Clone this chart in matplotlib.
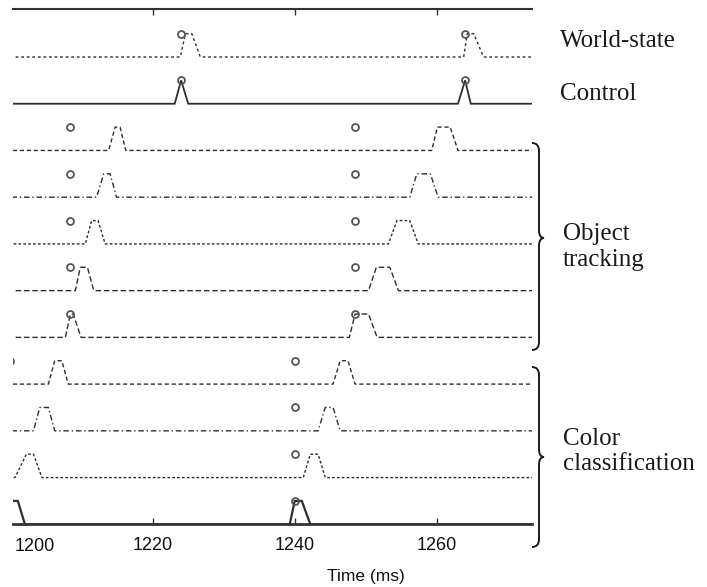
import matplotlib
matplotlib.use("Agg")
import matplotlib.pyplot as plt
from matplotlib.path import Path
from matplotlib.patches import PathPatch

# ---------------- data (times in ms) ----------------
# rows from top to bottom
row_names = ["World-state", "Control",
             "Object tracking 1", "Object tracking 2", "Object tracking 3",
             "Object tracking 4", "Object tracking 5",
             "Color classification 1", "Color classification 2",
             "Color classification 3", "Color classification 4"]

# each pulse: (rise start, top start, top end, fall end)
ws_pulses = [(1223.9, 1224.6, 1225.5, 1226.7), (1263.8, 1264.3, 1265.2, 1266.6)]
ctrl_pulses = [(1223.1, 1224.0, 1224.0, 1225.0), (1263.0, 1264.0, 1264.0, 1264.8)]
ot1_pulses = [(1213.8, 1214.7, 1215.4, 1216.2), (1259.3, 1260.1, 1261.9, 1263.0)]
ot2_pulses = [(1212.1, 1213.1, 1214.0, 1214.9), (1256.2, 1257.2, 1259.1, 1260.2)]
ot3_pulses = [(1210.5, 1211.4, 1212.3, 1213.3), (1253.2, 1254.4, 1256.2, 1257.4)]
ot4_pulses = [(1209.1, 1209.8, 1210.8, 1211.7), (1250.4, 1251.5, 1253.4, 1254.6)]
ot5_pulses = [(1207.7, 1208.4, 1208.8, 1209.9), (1247.7, 1248.5, 1250.4, 1251.6)]
cc1_pulses = [(1205.3, 1206.2, 1207.2, 1208.1), (1245.4, 1246.4, 1247.5, 1248.5)]
cc2_pulses = [(1203.2, 1204.1, 1205.3, 1206.2), (1243.3, 1244.3, 1245.4, 1246.4)]
cc3_pulses = [(1200.6, 1202.2, 1203.2, 1204.4), (1241.2, 1242.2, 1243.3, 1244.3)]
cc4_pulses = [(1199.0, 1199.8, 1201.0, 1202.0), (1239.3, 1240.0, 1241.0, 1242.2)]

# event markers (circles)
ws_events = [1224.0, 1264.0]
ctrl_events = [1224.0, 1264.0]
ot_events = [1208.3, 1248.5]
cc1_events = [1199.9, 1240.0]
cc2_events = [1199.6, 1240.0]
cc_events = [1240.0]

row_pulses = [ws_pulses, ctrl_pulses, ot1_pulses, ot2_pulses, ot3_pulses,
              ot4_pulses, ot5_pulses, cc1_pulses, cc2_pulses, cc3_pulses, cc4_pulses]
row_events = [ws_events, ctrl_events, ot_events, ot_events, ot_events,
              ot_events, ot_events, cc1_events, cc2_events, cc_events, cc_events]

x_ticks = [1220, 1240, 1260]
first_tick_label = "1200"

# ---------------- styles ----------------
row_styles = [(0, (2, 2)), "-", (0, (3, 2)), (0, (4, 2, 1, 2)), (0, (2, 1.5)),
              (0, (4, 2)), (0, (4, 2)), (0, (3, 2)), (0, (4, 2, 1, 2)),
              (0, (2, 1.5)), "-"]
row_lw = [1.0, 1.3, 1.0, 1.0, 1.0, 1.0, 1.0, 1.0, 1.0, 1.0, 1.6]
pulse_height = 0.5
line_color = "#2e2e2e"

W, H = 707, 587
fig = plt.figure(figsize=(W / 100, H / 100), dpi=100)
ax_l, ax_r, ax_t, ax_b = 13, 531.7, 9, 524.3
ax = fig.add_axes([ax_l / W, 1 - ax_b / H, (ax_r - ax_l) / W, (ax_b - ax_t) / H])

n = len(row_names)
for i, (pulses, events) in enumerate(zip(row_pulses, row_events)):
    base = n - 1 - i
    xs, ys = [1180.0], [0.0]
    for r, a, b, f in pulses:
        xs += [r, a, b, f]
        ys += [0, 1, 1, 0]
    xs.append(1290.0)
    ys.append(0)
    ax.plot(xs, [base + pulse_height * y for y in ys], color=line_color,
            lw=row_lw[i], linestyle=row_styles[i], solid_joinstyle="miter")
    ax.plot(events, [base + pulse_height] * len(events), linestyle="none",
            marker="o", markersize=5, markerfacecolor="none",
            markeredgecolor="#555555", markeredgewidth=1.3)

ax.set_xlim(1200.32, 1273.38)
ax.set_ylim(0, n - 1 + 1.027)
ax.set_yticks([])
ax.set_xticks(x_ticks)
ax.set_xticklabels([str(t) for t in x_ticks])
for s in ("left", "right"):
    ax.spines[s].set_visible(False)
ax.spines["bottom"].set_linewidth(2.0)
ax.spines["top"].set_linewidth(1.5)
ax.spines["bottom"].set_color("#333333")
ax.spines["top"].set_color("#333333")
ax.tick_params(axis="x", direction="in", length=4, width=1, top=True,
               color="#333333", pad=9, labelsize=13, labelcolor="#111111")
for lab in ax.get_xticklabels():
    lab.set_fontfamily("Liberation Sans")
ax.text(0.004, -13.5 / (ax_b - ax_t), first_tick_label,
        transform=ax.transAxes, ha="left", va="top", fontsize=13,
        family="Liberation Sans", color="#111111")

fig.text(366 / W, 1 - 577 / H, "Time (ms)", ha="center", va="center",
         fontsize=12.5, family="Liberation Sans", color="#111111")

serif = dict(family="Liberation Serif", fontsize=18, color="#1a1a1a", va="baseline")
fig.text(560 / W, 1 - 47 / H, "World-state", **serif)
fig.text(560 / W, 1 - 100 / H, "Control", **serif)
fig.text(563 / W, 1 - 240 / H, "Object", **serif)
fig.text(563 / W, 1 - 266 / H, "tracking", **serif)
fig.text(563 / W, 1 - 445 / H, "Color", **serif)
fig.text(563 / W, 1 - 470 / H, "classification", **serif)


def brace(y_top, y_tip, y_bot, x0=532.0, x1=539.0, x2=544.0, r=8.0):
    pts = [(x0, y_top), (x1, y_top), (x1, y_top + r),
           (x1, y_tip - r),
           (x1, y_tip), (x2, y_tip),
           (x1, y_tip), (x1, y_tip + r),
           (x1, y_bot - r),
           (x1, y_bot), (x0, y_bot)]
    codes = [Path.MOVETO, Path.CURVE3, Path.CURVE3, Path.LINETO,
             Path.CURVE3, Path.CURVE3, Path.CURVE3, Path.CURVE3,
             Path.LINETO, Path.CURVE3, Path.CURVE3]
    verts = [(x / W, 1 - y / H) for x, y in pts]
    fig.patches.append(PathPatch(Path(verts, codes), transform=fig.transFigure,
                                 facecolor="none", edgecolor="#1a1a1a", lw=1.4))


brace(143, 238, 350)
brace(367, 457, 547)

fig.savefig("out.png", dpi=100)
